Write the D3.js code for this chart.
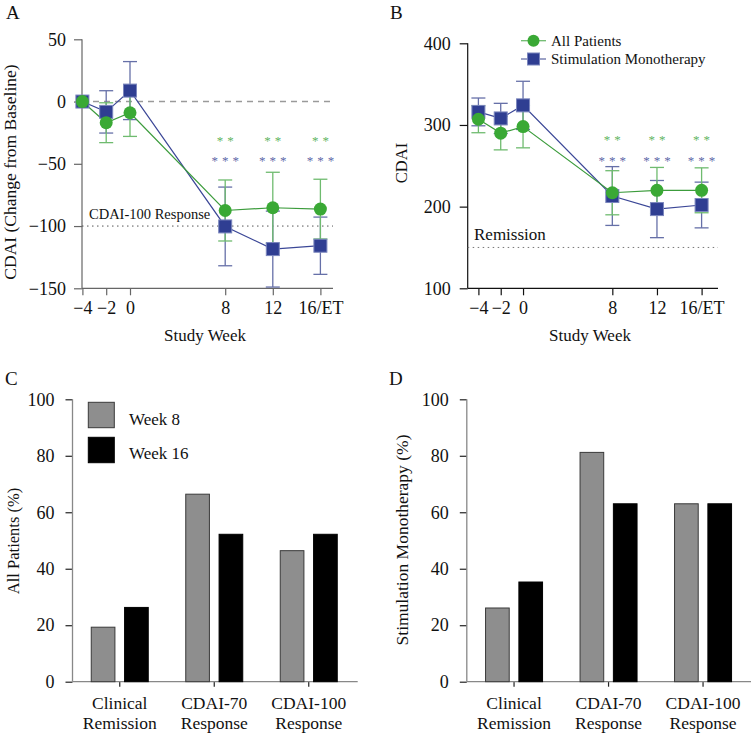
<!DOCTYPE html>
<html>
<head>
<meta charset="utf-8">
<script src="https://cdn.jsdelivr.net/npm/d3@7"></script>
<style>
  html, body { margin: 0; padding: 0; background: #fff; }
  svg { display: block; font-family: "Liberation Serif", "DejaVu Serif", serif; }
</style>
</head>
<body>
<svg id="chart" width="752" height="736"></svg>
<script>
// ---------- DATA ----------
const weeks = [-4, -2, 0, 8, 12, 16];
const weekLabels = ["\u22124", "\u22122", "0", "8", "12", "16/ET"];

// Panel A: change from baseline
const allChange     = [0, -17, -9, -87.5, -85.3, -86.4];
const allChangeErr  = [0, 16, 19, 24.5, 28.5, 24];
const monoChange    = [0, -8.3, 8.8, -100.3, -118.5, -115.8];
const monoChangeErr = [0, 17, 23.3, 31.6, 30.5, 23];
const changeTicks   = [50, 0, -50, -100, -150];

// Panel B: CDAI
const allCdai     = [307, 290, 298, 217, 220, 220];
const allCdaiErr  = [16.5, 20.5, 26, 27, 28, 27.5];
const monoCdai    = [316, 308, 324, 213, 197, 202];
const monoCdaiErr = [17, 18.5, 29.5, 36, 35, 28];
const cdaiTicks   = [100, 200, 300, 400];

// significance markers (weeks 8, 12, 16)
const sigWeeks = [8, 12, 16];
const sigAll = "**";
const sigMono = "***";

// Panels C/D
const categories = [["Clinical", "Remission"], ["CDAI-70", "Response"], ["CDAI-100", "Response"]];
const groups = ["Week 8", "Week 16"];
const allWeek8   = [19.3, 66.4, 46.4];
const allWeek16  = [26.3, 52.2, 52.2];
const monoWeek8  = [26.1, 81.2, 63];
const monoWeek16 = [35.3, 63, 63];
const pctTicks = [0, 20, 40, 60, 80, 100];

// ---------- STYLE ----------
const GREEN = "#3aa935", GREEN_LINE = "#3c9c3c", GREEN_ERR = "#6fbb6f";
const BLUE = "#2f3e92", BLUE_LINE = "#3b4797", BLUE_ERR = "#6670a8";
const TXT = "#111";
const FONT = "'Liberation Serif', serif";

const svg = d3.select("#chart");

function letter(x, y, t) {
  svg.append("text").attr("x", x).attr("y", y).attr("font-size", 19).attr("fill", TXT).text(t);
}

function styleAxis(g, color) {
  g.attr("font-family", FONT);
  g.selectAll(".domain").remove();
  g.selectAll(".tick line").attr("stroke", color).attr("stroke-width", 1.2);
  g.selectAll(".tick text").attr("fill", TXT).attr("font-size", 18).style("font-family", FONT);
}

function linePanel(opt) {
  const { x, y, all, allErr, mono, monoErr, axisColor, yTicks, xEnd } = opt;
  const g = svg.append("g");
  const yb = y.range()[0], yt = y.range()[1];

  // axes
  const ya = g.append("g").attr("transform", `translate(${opt.yAxisX},0)`)
    .call(d3.axisLeft(y).tickValues(yTicks).tickSize(8).tickPadding(opt.yPad).tickFormat(d3.format("d")));
  styleAxis(ya, axisColor);
  g.append("line").attr("x1", opt.yAxisX).attr("x2", opt.yAxisX).attr("y1", yt).attr("y2", yb)
    .attr("stroke", axisColor).attr("stroke-width", 1.2);
  const xa = g.append("g").attr("transform", `translate(0,${yb})`)
    .call(d3.axisBottom(x).tickValues(weeks).tickSize(7).tickPadding(6)
      .tickFormat((d, i) => weekLabels[i]));
  styleAxis(xa, axisColor);
  g.append("line").attr("x1", opt.yAxisX).attr("x2", xEnd).attr("y1", yb).attr("y2", yb)
    .attr("stroke", axisColor).attr("stroke-width", 1.2);

  // reference lines
  opt.refs.forEach(r => {
    g.append("line").attr("x1", opt.yAxisX).attr("x2", xEnd)
      .attr("y1", y(r.v)).attr("y2", y(r.v))
      .attr("stroke", r.color).attr("stroke-width", r.w).attr("stroke-dasharray", r.dash);
    if (r.label) {
      g.append("text").attr("x", r.lx).attr("y", r.ly).attr("font-size", r.fs)
        .attr("fill", TXT).text(r.label);
    }
  });

  // error bars
  function errBars(vals, errs, color) {
    weeks.forEach((w, i) => {
      if (!errs[i]) return;
      const cx = x(w), hi = y(vals[i] + errs[i]), lo = y(vals[i] - errs[i]);
      g.append("line").attr("x1", cx).attr("x2", cx).attr("y1", hi).attr("y2", lo)
        .attr("stroke", color).attr("stroke-width", 1.3);
      [hi, lo].forEach(yy => g.append("line").attr("x1", cx - 7).attr("x2", cx + 7)
        .attr("y1", yy).attr("y2", yy).attr("stroke", color).attr("stroke-width", 1.3));
    });
  }
  errBars(mono, monoErr, BLUE_ERR);
  errBars(all, allErr, GREEN_ERR);

  const line = d3.line().x((d, i) => x(weeks[i])).y(d => y(d));
  g.append("path").attr("d", line(mono)).attr("fill", "none").attr("stroke", BLUE_LINE).attr("stroke-width", 1.2);
  g.append("path").attr("d", line(all)).attr("fill", "none").attr("stroke", GREEN_LINE).attr("stroke-width", 1.2);

  g.selectAll(".sq").data(mono).join("rect")
    .attr("x", (d, i) => x(weeks[i]) - 6.5).attr("y", d => y(d) - 6.5)
    .attr("width", 13).attr("height", 13)
    .attr("fill", BLUE).attr("stroke", "#7b86bd").attr("stroke-width", 1);
  g.selectAll(".ci").data(all).join("circle")
    .attr("cx", (d, i) => x(weeks[i])).attr("cy", d => y(d)).attr("r", 6.5)
    .attr("fill", GREEN);

  // significance
  sigWeeks.forEach(w => {
    g.append("text").attr("x", x(w) + 2).attr("y", opt.sigY1).attr("text-anchor", "middle")
      .attr("font-size", 13).attr("letter-spacing", 4).attr("fill", "#62b562").text(sigAll);
    g.append("text").attr("x", x(w) + 2).attr("y", opt.sigY2).attr("text-anchor", "middle")
      .attr("font-size", 13).attr("letter-spacing", 4).attr("fill", "#5d68a8").text(sigMono);
  });

  // axis titles
  g.append("text").attr("x", opt.xTitleX).attr("y", 341).attr("text-anchor", "middle")
    .attr("font-size", 17).attr("fill", TXT).text("Study Week");
  g.append("text").attr("transform", `translate(${opt.yTitleX},${opt.yTitleY}) rotate(-90)`)
    .attr("text-anchor", "middle").attr("font-size", opt.yTitleFs).attr("fill", TXT).text(opt.yTitle);
  return g;
}

// ---------- PANEL A ----------
const xA = d3.scaleLinear().domain([-4, 16]).range([82.4, 320.4]);
const yA = d3.scaleLinear().domain([-150, 50]).range([288.3, 39.3]);
letter(6, 19, "A");
linePanel({
  x: xA, y: yA, all: allChange, allErr: allChangeErr, mono: monoChange, monoErr: monoChangeErr,
  axisColor: "#666", yTicks: changeTicks, yAxisX: 82, xEnd: 333, yPad: 8,
  refs: [
    { v: 0, color: "#9a9a9a", w: 1.6, dash: "6,5" },
    { v: -100, color: "#555", w: 1, dash: "1.5,3.5", label: "CDAI-100 Response", lx: 89, ly: 219, fs: 14.5 }
  ],
  sigY1: 145, sigY2: 165,
  xTitleX: 205, yTitleX: 16, yTitleY: 172, yTitle: "CDAI (Change from Baseline)", yTitleFs: 17.5
});

// ---------- PANEL B ----------
const xB = d3.scaleLinear().domain([-4, 16]).range([478.4, 701.6]);
const yB = d3.scaleLinear().domain([100, 400]).range([288.3, 43.3]);
letter(390, 19, "B");
linePanel({
  x: xB, y: yB, all: allCdai, allErr: allCdaiErr, mono: monoCdai, monoErr: monoCdaiErr,
  axisColor: "#111", yTicks: cdaiTicks, yAxisX: 467.7, xEnd: 718, yPad: 9,
  refs: [
    { v: 150, color: "#777", w: 1, dash: "1.5,3.5", label: "Remission", lx: 474, ly: 240, fs: 17 }
  ],
  sigY1: 144, sigY2: 165,
  xTitleX: 590, yTitleX: 407, yTitleY: 163, yTitle: "CDAI", yTitleFs: 16.5
});

// legend B
[{ y: 40.7, c: GREEN, lc: GREEN_ERR, shape: "circle", t: "All Patients" },
 { y: 59, c: BLUE, lc: BLUE_ERR, shape: "square", t: "Stimulation Monotherapy" }].forEach(l => {
  svg.append("line").attr("x1", 521).attr("x2", 546).attr("y1", l.y).attr("y2", l.y)
    .attr("stroke", l.lc).attr("stroke-width", 1.3);
  if (l.shape === "circle") {
    svg.append("circle").attr("cx", 533.5).attr("cy", l.y).attr("r", 6).attr("fill", l.c);
  } else {
    svg.append("rect").attr("x", 527.5).attr("y", l.y - 6).attr("width", 12).attr("height", 12)
      .attr("fill", l.c).attr("stroke", "#7b86bd");
  }
  svg.append("text").attr("x", 551).attr("y", l.y + 5).attr("font-size", 15).attr("fill", TXT).text(l.t);
});

// ---------- BAR PANELS ----------
function barPanel(opt) {
  const g = svg.append("g");
  const y = d3.scaleLinear().domain([0, 100]).range([681.7, 399.3]);
  const x = d3.scaleBand().domain(d3.range(categories.length)).range([opt.x0, opt.x0 + 283.5]);
  const xs = d3.scaleBand().domain(groups).range([-28.5, 28.5]).paddingInner(0.29);

  const ya = g.append("g").attr("transform", `translate(${opt.x0},0)`)
    .call(d3.axisLeft(y).tickValues(pctTicks).tickSize(7).tickPadding(11));
  styleAxis(ya, "#222");
  g.append("line").attr("x1", opt.x0).attr("x2", opt.x0).attr("y1", y(100)).attr("y2", y(0))
    .attr("stroke", "#888").attr("stroke-width", 1.3);
  const xa = g.append("g").attr("transform", `translate(0,${y(0)})`)
    .call(d3.axisBottom(x).tickSize(5).tickFormat(""));
  styleAxis(xa, "#222");
  g.append("line").attr("x1", opt.x0).attr("x2", opt.xEnd).attr("y1", y(0)).attr("y2", y(0))
    .attr("stroke", "#888").attr("stroke-width", 1.3);

  const series = [opt.w8, opt.w16];
  const fills = ["#8e8e8e", "#000"];
  categories.forEach((c, i) => {
    const cx = x(i) + x.bandwidth() / 2;
    groups.forEach((gr, j) => {
      g.append("rect").attr("x", cx + xs(gr)).attr("y", y(series[j][i]))
        .attr("width", xs.bandwidth()).attr("height", y(0) - y(series[j][i]))
        .attr("fill", fills[j]).attr("stroke", j === 0 ? "#3a3a3a" : "#000").attr("stroke-width", 1);
    });
    c.forEach((t, k) => {
      g.append("text").attr("x", cx).attr("y", 709 + k * 20).attr("text-anchor", "middle")
        .attr("font-size", 17.5).attr("fill", TXT).text(t);
    });
  });
  g.append("text").attr("transform", `translate(${opt.titleX},${opt.titleY}) rotate(-90)`)
    .attr("text-anchor", "middle").attr("font-size", opt.titleFs).attr("fill", TXT).text(opt.title);
  return g;
}

letter(5, 385, "C");
barPanel({ x0: 72.5, xEnd: 357.7, w8: allWeek8, w16: allWeek16,
  title: "All Patients (%)", titleX: 19, titleY: 541, titleFs: 16.5 });
letter(389, 385, "D");
barPanel({ x0: 466.8, xEnd: 751, w8: monoWeek8, w16: monoWeek16,
  title: "Stimulation Monotherapy (%)", titleX: 408, titleY: 540, titleFs: 17.5 });

// legend C
[{ y: 402.3, f: "#8e8e8e", s: "#3a3a3a", t: groups[0], ty: 425 },
 { y: 437.3, f: "#000", s: "#000", t: groups[1], ty: 458.5 }].forEach(l => {
  svg.append("rect").attr("x", 88.3).attr("y", l.y).attr("width", 26).attr("height", 25.4)
    .attr("fill", l.f).attr("stroke", l.s);
  svg.append("text").attr("x", 129).attr("y", l.ty).attr("font-size", 17).attr("fill", TXT).text(l.t);
});
</script>
</body>
</html>
